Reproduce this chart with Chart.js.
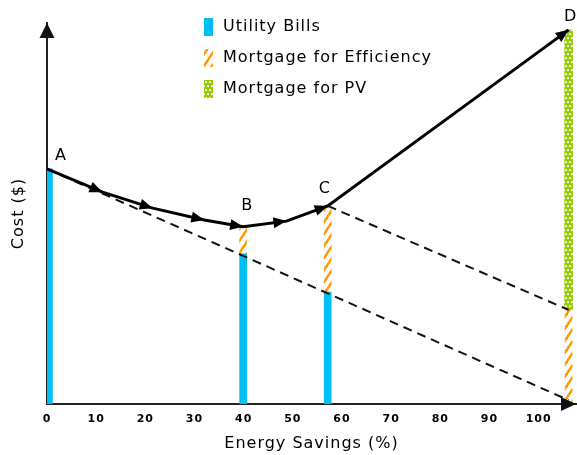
<!DOCTYPE html>
<html>
<head>
<meta charset="utf-8">
<script src="https://cdn.jsdelivr.net/npm/chart.js@4.4.1/dist/chart.umd.min.js"></script>
<style>
    html, body { margin: 0; padding: 0; background: #fff; }
    #wrap { width: 577px; height: 455px; }
</style>
</head>
<body>
<div id="wrap"><canvas id="costChart"></canvas></div>
<script>
// -------------------------
// Chart Data
// -------------------------
const xTicks = [0, 10, 20, 30, 40, 50, 60, 70, 80, 90, 100];

// total cost path A -> B -> C -> D
const pathSavings = [0, 11.3, 21.5, 32.0, 39.9, 48.7, 57.1, 106.1];
const pathCost = [61.7, 55.6, 51.4, 48.3, 46.5, 48.0, 52.0, 98.2];
const pointNames = ['A', '', '', '', 'B', '', 'C', 'D'];

// stacked bars
const barSavings = [0.4, 39.9, 57.1, 106.1];
const utilityBills = [61.7, 39.4, 29.4, 0];
const mortgageEfficiency = [0, 7.1, 22.6, 24.7];
const mortgagePV = [0, 0, 0, 73.5];

// dashed guide lines
const lowerSavings = [0, 106.1];
const lowerCost = [61.7, 1.0];
const upperSavings = [57.1, 106.1];
const upperCost = [52.0, 24.7];

// -------------------------
// Patterns
// -------------------------
function hatchPattern() {
    const c = document.createElement('canvas');
    c.width = 8; c.height = 12;
    const g = c.getContext('2d');
    g.strokeStyle = '#ff9900';
    g.lineWidth = 2.4;
    for (let m = -1; m <= 1; m++) {
        g.beginPath();
        g.moveTo(-2, 12 + 3 + 12 * m);
        g.lineTo(10, 12 - 15 + 12 * m);
        g.stroke();
    }
    return g.createPattern(c, 'repeat');
}

function chainPattern() {
    const c = document.createElement('canvas');
    c.width = 4; c.height = 8;
    const g = c.getContext('2d');
    g.fillStyle = '#99cc00';
    g.fillRect(0, 0, 4, 8);
    g.fillStyle = '#ffffff';
    g.fillRect(1, 1.5, 2, 1.5);
    g.fillRect(3, 5.5, 2, 1.5);
    g.fillRect(-1, 5.5, 2, 1.5);
    return g.createPattern(c, 'repeat');
}

function stackRange(i, below, own) {
    return { x: barSavings[i], y: [below, below + own] };
}

const utilData = barSavings.map((x, i) => stackRange(i, 0, utilityBills[i])).filter(d => d.y[1] > d.y[0]);
const effData = barSavings.map((x, i) => stackRange(i, utilityBills[i], mortgageEfficiency[i])).filter(d => d.y[1] > d.y[0]);
const pvData = barSavings.map((x, i) => stackRange(i, utilityBills[i] + mortgageEfficiency[i], mortgagePV[i])).filter(d => d.y[1] > d.y[0]);

const toPoints = (xs, ys) => xs.map((x, i) => ({ x: x, y: ys[i] }));

// -------------------------
// Arrows, labels, legend
// -------------------------
function arrowHead(ctx, x0, y0, x1, y1, len, half) {
    const a = Math.atan2(y1 - y0, x1 - x0);
    const bx = x1 - len * Math.cos(a);
    const by = y1 - len * Math.sin(a);
    ctx.beginPath();
    ctx.moveTo(x1, y1);
    ctx.lineTo(bx + half * Math.sin(a), by - half * Math.cos(a));
    ctx.lineTo(bx - half * Math.sin(a), by + half * Math.cos(a));
    ctx.closePath();
    ctx.fill();
}

const labelOffsets = { A: [14, -13], B: [4, -21], C: [-3, -17], D: [2, -13] };

const extrasPlugin = {
    id: 'extras',
    beforeDraw(chart) {
        chart.ctx.letterSpacing = '1px';
    },
    afterDraw(chart) {
        const ctx = chart.ctx;
        const area = chart.chartArea;
        ctx.save();
        ctx.fillStyle = '#111';

        // axis arrows
        arrowHead(ctx, area.left, area.bottom, area.left, area.top, 15, 7.5);
        arrowHead(ctx, area.left, area.bottom, area.right, area.bottom, 15, 7);

        // path arrows
        ctx.fillStyle = '#000';
        const pts = chart.getDatasetMeta(0).data;
        for (let i = 1; i < pts.length; i++) {
            arrowHead(ctx, pts[i - 1].x, pts[i - 1].y, pts[i].x, pts[i].y, 13, 5.5);
        }

        // point labels
        ctx.font = '16px "DejaVu Sans"';
        ctx.textAlign = 'center';
        ctx.textBaseline = 'middle';
        ctx.fillStyle = '#000';
        pointNames.forEach((name, i) => {
            if (!name) return;
            const off = labelOffsets[name];
            ctx.fillText(name, pts[i].x + off[0], pts[i].y + off[1]);
        });

        // legend
        ctx.textAlign = 'left';
        const bars = chart.data.datasets.filter(d => d.type === 'bar');
        bars.forEach((d, i) => {
            const cy = 27 + i * 31;
            ctx.fillStyle = d.backgroundColor;
            ctx.fillRect(204, cy - 9, 9, 18);
            ctx.fillStyle = '#000';
            ctx.fillText(d.label, 223, cy);
        });
        ctx.restore();
    }
};

// -------------------------
// Chart Setup
// -------------------------
const ctx = document.getElementById('costChart').getContext('2d');

new Chart(ctx, {
    data: {
        datasets: [
            {
                type: 'line',
                label: 'Total Cost',
                data: toPoints(pathSavings, pathCost),
                borderColor: '#000',
                borderWidth: 3,
                pointRadius: 0,
                tension: 0,
                fill: false,
                order: 0
            },
            {
                type: 'line',
                label: 'Lower',
                data: toPoints(lowerSavings, lowerCost),
                borderColor: '#111',
                borderWidth: 2,
                borderDash: [9, 6],
                pointRadius: 0,
                fill: false,
                order: 1
            },
            {
                type: 'line',
                label: 'Upper',
                data: toPoints(upperSavings, upperCost),
                borderColor: '#111',
                borderWidth: 2,
                borderDash: [9, 6],
                pointRadius: 0,
                fill: false,
                order: 1
            },
            {
                type: 'bar',
                label: 'Utility Bills',
                data: utilData,
                backgroundColor: '#00bff3',
                barThickness: 7,
                grouped: false,
                order: 2
            },
            {
                type: 'bar',
                label: 'Mortgage for Efficiency',
                data: effData,
                backgroundColor: hatchPattern(),
                barThickness: 7,
                grouped: false,
                order: 2
            },
            {
                type: 'bar',
                label: 'Mortgage for PV',
                data: pvData,
                backgroundColor: chainPattern(),
                barThickness: 8,
                grouped: false,
                order: 2
            }
        ]
    },
    options: {
        responsive: true,
        maintainAspectRatio: false,
        animation: false,
        events: [],
        layout: {
            padding: { top: 23, right: 1, left: 0, bottom: 0 }
        },
        plugins: {
            legend: { display: false },
            tooltip: { enabled: false }
        },
        scales: {
            x: {
                type: 'linear',
                min: 0,
                max: 107.6,
                offset: false,
                afterBuildTicks: s => { s.ticks = xTicks.map(v => ({ value: v })); },
                afterFit: s => { s.height = 51; },
                grid: { display: false, drawTicks: false },
                border: { color: '#222', width: 2 },
                ticks: {
                    color: '#000',
                    padding: 9,
                    autoSkip: false,
                    maxRotation: 0,
                    font: { family: '"DejaVu Sans"', size: 11, weight: 'bold' }
                },
                title: {
                    display: true,
                    text: 'Energy Savings (%)',
                    color: '#000',
                    padding: { top: 0, bottom: 2 },
                    font: { family: '"DejaVu Sans"', size: 16 }
                }
            },
            y: {
                type: 'linear',
                min: 0,
                max: 100,
                afterFit: s => { s.width = 47; },
                grid: { display: false, drawTicks: false },
                border: { color: '#222', width: 2 },
                ticks: { display: false },
                title: {
                    display: true,
                    text: 'Cost ($)',
                    color: '#000',
                    padding: { top: 9, bottom: 0 },
                    font: { family: '"DejaVu Sans"', size: 16 }
                }
            }
        }
    },
    plugins: [extrasPlugin]
});
</script>
</body>
</html>
